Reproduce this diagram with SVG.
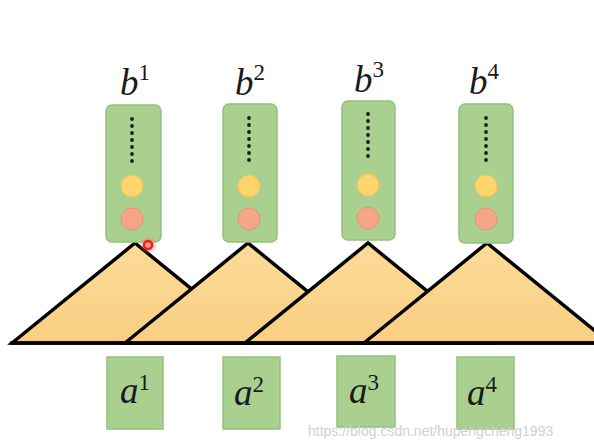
<svg xmlns="http://www.w3.org/2000/svg" width="594" height="448" viewBox="0 0 594 448">
  <defs>
    <linearGradient id="tri" x1="0" y1="0" x2="0" y2="1">
      <stop offset="0" stop-color="#fcdb98"/>
      <stop offset="1" stop-color="#f9cf82"/>
    </linearGradient>
    <radialGradient id="glow">
      <stop offset="0.4" stop-color="#ff6060" stop-opacity="0.6"/>
      <stop offset="1" stop-color="#ff8080" stop-opacity="0"/>
    </radialGradient>
  </defs>
  <style>
    .bbox { fill: #a9d08f; stroke: #94bf7d; stroke-width: 1.5; }
    .abox { fill: #a9d08f; stroke: #94bf7d; stroke-width: 1.5; }
    .tri { fill: url(#tri); stroke: #000; stroke-width: 3.5; stroke-linejoin: miter; }
    .dot { fill: #1a1a1a; }
    .yel { fill: #fed56c; stroke: #f5c454; stroke-width: 1; }
    .org { fill: #f6a688; stroke: #ee9070; stroke-width: 1; }
    .lab { font-family: "Liberation Serif", "DejaVu Serif", serif; font-size: 37px; font-style: italic; fill: #1a1a1a; }
    .sup { font-style: normal; font-size: 23px; }
    .wm { font-family: "Liberation Sans", Arial, sans-serif; font-size: 14px; fill: #d0d0d0; }
  </style>

  <g id="connectors">
    <polygon class="tri" points="12,343 135,243 258,343"/>
    <polygon class="tri" points="125,343 248,243 371,343"/>
    <polygon class="tri" points="245,343 368,243 491,343"/>
    <polygon class="tri" points="364,343 487,243 610,343"/>
    <line x1="10" y1="343" x2="594" y2="343" stroke="#000" stroke-width="3.5"/>
  </g>

  <g id="b1">
    <rect class="bbox" x="106" y="105" width="55" height="137" rx="6"/>
    <g class="dot">
      <circle cx="132" cy="119" r="1.9"/><circle cx="132" cy="126" r="1.9"/><circle cx="132" cy="133" r="1.9"/>
      <circle cx="132" cy="140" r="1.9"/><circle cx="132" cy="147" r="1.9"/><circle cx="132" cy="154" r="1.9"/>
      <circle cx="132" cy="161" r="1.9"/>
    </g>
    <circle class="yel" cx="132" cy="186" r="11"/>
    <circle class="org" cx="132" cy="219" r="11"/>
    <text class="lab" x="120" y="95">b<tspan class="sup" dy="-15">1</tspan></text>
  </g>

  <g id="b2">
    <rect class="bbox" x="223" y="104" width="54" height="138" rx="6"/>
    <g class="dot">
      <circle cx="249" cy="118" r="1.9"/><circle cx="249" cy="125" r="1.9"/><circle cx="249" cy="132" r="1.9"/>
      <circle cx="249" cy="139" r="1.9"/><circle cx="249" cy="146" r="1.9"/><circle cx="249" cy="153" r="1.9"/>
      <circle cx="249" cy="160" r="1.9"/>
    </g>
    <circle class="yel" cx="249" cy="186" r="11"/>
    <circle class="org" cx="249" cy="219" r="11"/>
    <text class="lab" x="235" y="95">b<tspan class="sup" dy="-15">2</tspan></text>
  </g>

  <g id="b3">
    <rect class="bbox" x="342" y="101" width="53" height="139" rx="6"/>
    <g class="dot">
      <circle cx="368" cy="114" r="1.9"/><circle cx="368" cy="121" r="1.9"/><circle cx="368" cy="128" r="1.9"/>
      <circle cx="368" cy="135" r="1.9"/><circle cx="368" cy="142" r="1.9"/><circle cx="368" cy="149" r="1.9"/>
      <circle cx="368" cy="156" r="1.9"/>
    </g>
    <circle class="yel" cx="368" cy="185" r="11"/>
    <circle class="org" cx="368" cy="218" r="11"/>
    <text class="lab" x="354" y="92">b<tspan class="sup" dy="-15">3</tspan></text>
  </g>

  <g id="b4">
    <rect class="bbox" x="459" y="104" width="54" height="139" rx="6"/>
    <g class="dot">
      <circle cx="486" cy="118" r="1.9"/><circle cx="486" cy="125" r="1.9"/><circle cx="486" cy="132" r="1.9"/>
      <circle cx="486" cy="139" r="1.9"/><circle cx="486" cy="146" r="1.9"/><circle cx="486" cy="153" r="1.9"/>
      <circle cx="486" cy="160" r="1.9"/>
    </g>
    <circle class="yel" cx="486" cy="186" r="11"/>
    <circle class="org" cx="486" cy="219" r="11"/>
    <text class="lab" x="469" y="94">b<tspan class="sup" dy="-15">4</tspan></text>
  </g>

  <g id="a1">
    <rect class="abox" x="107" y="357" width="56" height="72"/>
    <text class="lab" x="120" y="403">a<tspan class="sup" dy="-13">1</tspan></text>
  </g>
  <g id="a2">
    <rect class="abox" x="223" y="357" width="57" height="72"/>
    <text class="lab" x="234" y="405">a<tspan class="sup" dy="-13">2</tspan></text>
  </g>
  <g id="a3">
    <rect class="abox" x="337" y="356" width="58" height="71"/>
    <text class="lab" x="349" y="403">a<tspan class="sup" dy="-13">3</tspan></text>
  </g>
  <g id="a4">
    <rect class="abox" x="457" y="357" width="57" height="72"/>
    <text class="lab" x="467" y="405">a<tspan class="sup" dy="-13">4</tspan></text>
  </g>

  <g id="cursor">
    <circle cx="148" cy="245" r="9" fill="url(#glow)"/>
    <circle cx="148" cy="245" r="4" fill="none" stroke="#ff1a1a" stroke-width="2.5"/>
  </g>

  <text class="wm" x="308" y="436">https://blog.csdn.net/hupengcheng1993</text>
</svg>
